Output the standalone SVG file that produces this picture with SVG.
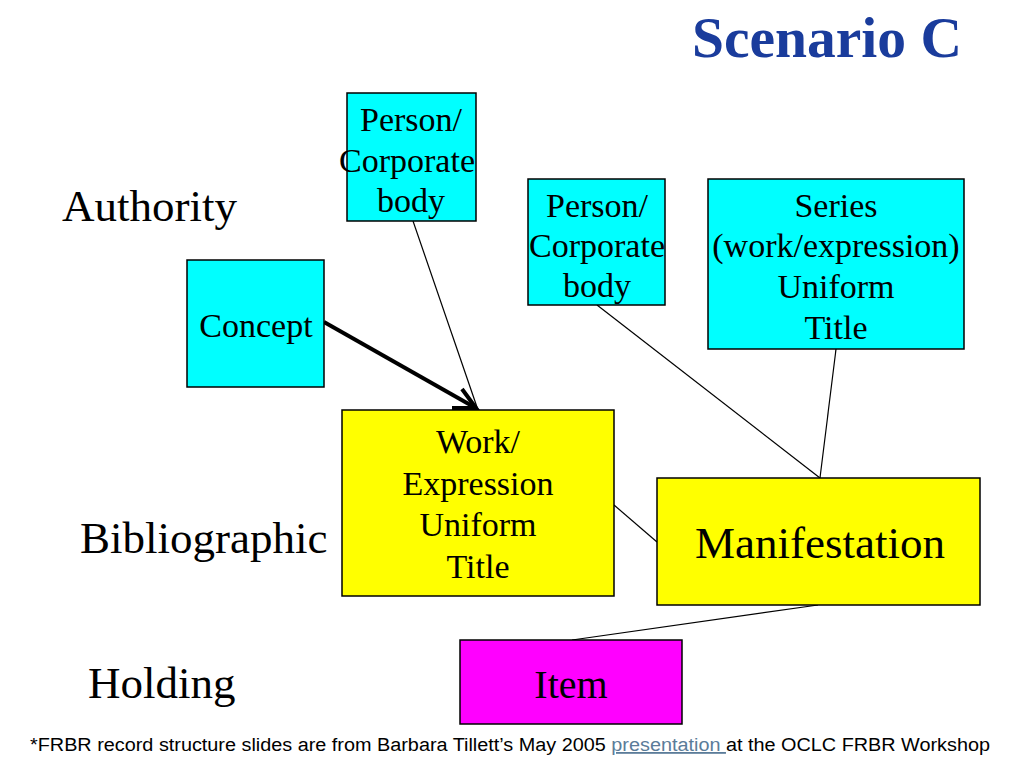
<svg xmlns="http://www.w3.org/2000/svg" width="1024" height="768" viewBox="0 0 1024 768">
<style>
.box{stroke:#000;stroke-width:1.5}
.auth{fill:#00FFFF}
.bib{fill:#FFFF00}
.hold{fill:#FF00FF}
.t{font-family:"Liberation Serif","Times New Roman",serif;fill:#000;text-anchor:middle}
.n{font-size:34px}
.lab{font-family:"Liberation Serif","Times New Roman",serif;font-size:45px;fill:#000}
.ln{stroke:#000;stroke-width:1.2;fill:none}
</style>
<rect width="1024" height="768" fill="#fff"/>
<text x="962" y="57" textLength="270" lengthAdjust="spacingAndGlyphs" style="font-family:'Liberation Serif','Times New Roman',serif;font-size:56px;font-weight:bold;fill:#1A3C9C;text-anchor:end">Scenario C</text>
<text class="lab" x="62" y="221">Authority</text>
<text class="lab" x="80" y="553">Bibliographic</text>
<text class="lab" x="88" y="698">Holding</text>

<g id="connectors">
<line class="ln" x1="413" y1="221" x2="478" y2="410"/>
<line class="ln" x1="597" y1="305" x2="820" y2="478"/>
<line class="ln" x1="836" y1="349" x2="820" y2="478"/>
<line class="ln" x1="614" y1="505" x2="657" y2="542"/>
<line class="ln" x1="818" y1="605" x2="572" y2="640"/>
<line x1="324" y1="322" x2="474" y2="407" stroke="#000" stroke-width="4"/>
<polyline points="462,389 476,408 452,408" fill="none" stroke="#000" stroke-width="4" stroke-linejoin="miter"/>
</g>

<g id="person1">
<rect class="box auth" x="347" y="93" width="129" height="128"/>
<text class="t n" x="411" y="131">Person/</text>
<text class="t n" x="407" y="172">Corporate</text>
<text class="t n" x="411" y="212">body</text>
</g>
<g id="person2">
<rect class="box auth" x="528" y="179" width="137" height="126"/>
<text class="t n" x="597" y="217">Person/</text>
<text class="t n" x="597" y="257">Corporate</text>
<text class="t n" x="597" y="297">body</text>
</g>
<g id="series">
<rect class="box auth" x="708" y="179" width="256" height="170"/>
<text class="t n" x="836" y="217">Series</text>
<text class="t n" x="836" y="257">(work/expression)</text>
<text class="t n" x="836" y="298">Uniform</text>
<text class="t n" x="836" y="339">Title</text>
</g>
<g id="concept">
<rect class="box auth" x="187" y="260" width="137" height="127"/>
<text class="t n" x="256" y="337">Concept</text>
</g>
<g id="work">
<rect class="box bib" x="342" y="410" width="272" height="186"/>
<text class="t n" x="478" y="453">Work/</text>
<text class="t n" x="478" y="495">Expression</text>
<text class="t n" x="478" y="536">Uniform</text>
<text class="t n" x="478" y="578">Title</text>
</g>
<g id="manifestation">
<rect class="box bib" x="657" y="478" width="323" height="127"/>
<text class="t" x="820" y="558" style="font-size:45px">Manifestation</text>
</g>
<g id="item">
<rect class="box hold" x="460" y="640" width="222" height="84"/>
<text class="t" x="571" y="698" style="font-size:40px">Item</text>
</g>

<text x="30" y="751" textLength="960" lengthAdjust="spacingAndGlyphs" style="font-family:'Liberation Sans',Arial,sans-serif;font-size:18px;fill:#000">*FRBR record structure slides are from Barbara Tillett’s May 2005 <tspan fill="#5B7C99" text-decoration="underline">presentation </tspan>at the OCLC FRBR Workshop</text>
</svg>
